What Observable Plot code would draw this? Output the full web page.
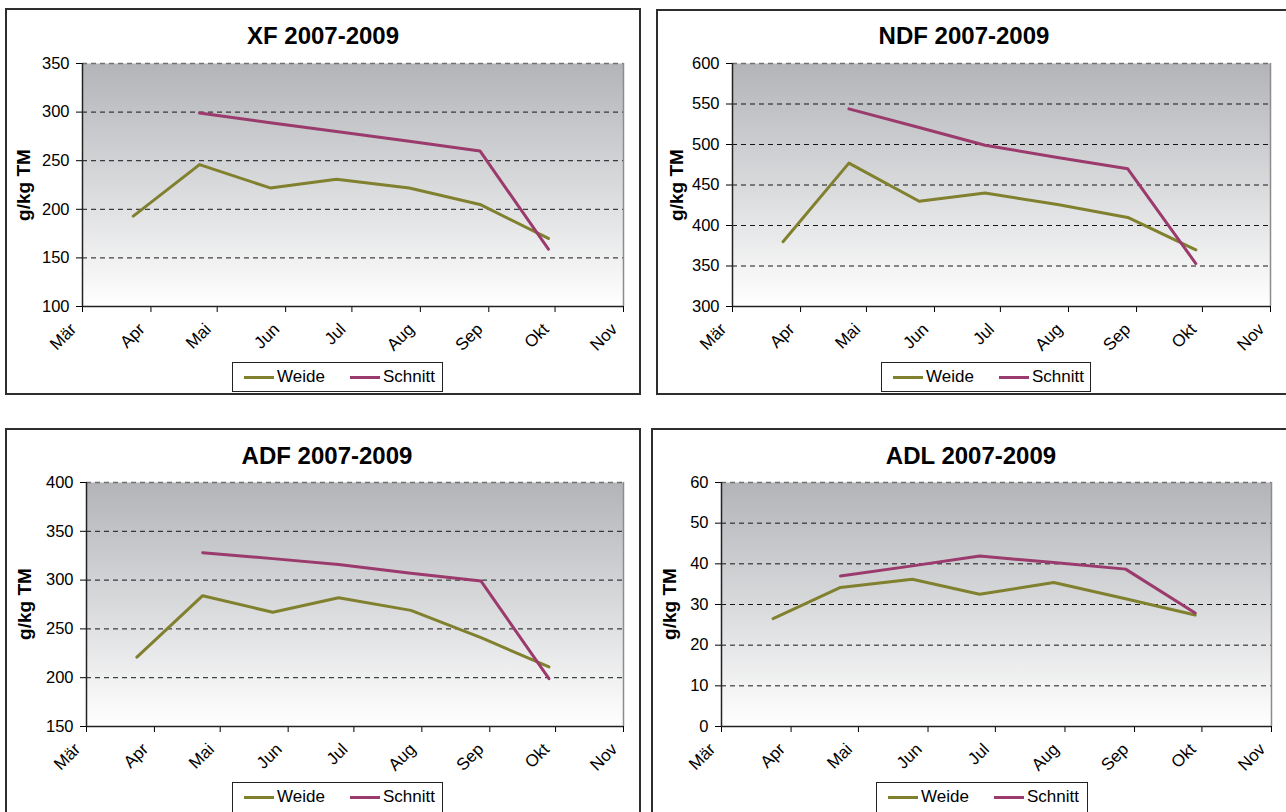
<!DOCTYPE html>
<html><head><meta charset="utf-8">
<script src="https://cdn.jsdelivr.net/npm/d3@7"></script>
<script src="https://cdn.jsdelivr.net/npm/@observablehq/plot@0.6"></script>
<style>
body{margin:0;background:#fff;width:1286px;height:812px;overflow:hidden;position:relative;font-family:"Liberation Sans",Arial,sans-serif;color:#000;}
.panel{position:absolute;box-sizing:border-box;border:2px solid #2e2e2e;}
.title{position:absolute;font-weight:bold;font-size:24px;line-height:24px;transform:translateX(-50%);white-space:nowrap;}
.ylab{position:absolute;font-weight:bold;font-size:19px;line-height:19px;transform:translate(-50%,-50%) rotate(-90deg);white-space:nowrap;}
.legend{position:absolute;box-sizing:border-box;border:1px solid #222;background:#fff;font-size:17px;}
.sw{position:absolute;height:3px;top:13px;width:30px;}
.lt{position:absolute;top:5px;line-height:18px;}
.chart{position:absolute;}
</style></head><body>
<script>
// ---- data ----
const months = ["Mär","Apr","Mai","Jun","Jul","Aug","Sep","Okt","Nov"];
const seriesNames = ["Weide","Schnitt"];
const seriesColors = ["#80802f","#9b3a6c"];
const titles = ["XF 2007-2009","NDF 2007-2009","ADF 2007-2009","ADL 2007-2009"];
const yLabel = "g/kg TM";
const weideDates = ["2009-03-24","2009-04-23","2009-05-25","2009-06-24","2009-07-27","2009-08-28","2009-09-28"];
const schnittDates = ["2009-04-23","2009-05-25","2009-06-24","2009-07-27","2009-08-28","2009-09-28"];

const xfWeide = [193, 246, 222, 231, 222, 205, 170];
const xfSchnitt = [299, 289, 280, 270, 260, 159];
const ndfWeide = [380, 477, 430, 440, 426, 410, 370];
const ndfSchnitt = [544, 521, 499, 484, 470, 353];
const adfWeide = [221, 284, 267, 282, 269, 241, 211];
const adfSchnitt = [328, 322, 316, 307, 299, 199];
const adlWeide = [26.5, 34.2, 36.2, 32.5, 35.4, 31.4, 27.4];
const adlSchnitt = [37, 39.5, 41.9, 40.3, 38.7, 27.9];

const yTicksXF = [100, 150, 200, 250, 300, 350];
const yTicksNDF = [300, 350, 400, 450, 500, 550, 600];
const yTicksADF = [150, 200, 250, 300, 350, 400];
const yTicksADL = [0, 10, 20, 30, 40, 50, 60];

// ---- layout ----
const layout = [
  {panel:[5,8,636,387], plot:[82,63,623,306], titleX:323, titleTop:24, ylabX:23, legend:[232,362,211,30]},
  {panel:[656,9,650,386], plot:[732,63,1270,306], titleX:964, titleTop:24, ylabX:676, legend:[881,362,210,30]},
  {panel:[5,428,636,400], plot:[86,482,623,726], titleX:327, titleTop:444, ylabX:24, legend:[232,782,211,40]},
  {panel:[651,428,650,400], plot:[721,482,1271,726], titleX:971, titleTop:444, ylabX:669, legend:[876,782,212,40]}
];

const monthStarts = months.map((m,i) => new Date(Date.UTC(2009, 2+i, 1)));

function div(cls, css, text){
  const d = document.createElement("div");
  d.className = cls;
  Object.assign(d.style, css);
  if (text != null) d.textContent = text;
  document.body.appendChild(d);
  return d;
}

function makeChart(i, wVals, sVals, yTicks){
  const L = layout[i];
  const [pl, pt, pw, ph] = L.panel;
  div("panel", {left:pl+"px", top:pt+"px", width:pw+"px", height:ph+"px"});
  div("title", {left:L.titleX+"px", top:L.titleTop+"px"}, titles[i]);
  const [px0, py0, px1, py1] = L.plot;
  div("ylab", {left:L.ylabX+"px", top:((py0+py1)/2)+"px"}, yLabel);

  const mL=60, mT=10, mR=12, mB=60;
  const W = px1-px0+mL+mR, H = py1-py0+mT+mB;
  const wData = weideDates.map((d,j)=>({date:new Date(d), v:wVals[j]}));
  const sData = schnittDates.map((d,j)=>({date:new Date(d), v:sVals[j]}));
  const x0 = monthStarts[0], x1 = monthStarts[monthStarts.length-1];
  const yMin = yTicks[0], yMax = yTicks[yTicks.length-1];
  const gid = "bg"+i;
  const svg = Plot.plot({
    width: W, height: H, marginLeft: mL, marginTop: mT, marginRight: mR, marginBottom: mB,
    style:{fontFamily:'"Liberation Sans",Arial,sans-serif', fontSize:"16px", color:"#000", background:"transparent", overflow:"visible"},
    x:{type:"utc", domain:[x0,x1]},
    y:{domain:[yMin,yMax]},
    marks:[
      Plot.frame({fill:`url(#${gid})`, stroke:"none"}),
      Plot.gridY(yTicks.slice(1,-1), {stroke:"#000", strokeOpacity:0.9, strokeDasharray:"5,4", strokeWidth:1}),
      Plot.gridY([yMax], {stroke:"#6f6f6f", strokeOpacity:1, strokeDasharray:"5,4", strokeWidth:1.5}),
      Plot.ruleX([x1], {stroke:"#8c8c8c", strokeWidth:1.5}),
      Plot.line(wData, {x:"date", y:"v", stroke:seriesColors[0], strokeWidth:3}),
      Plot.line(sData, {x:"date", y:"v", stroke:seriesColors[1], strokeWidth:3}),
      Plot.axisY({ticks:yTicks, tickSize:6, tickPadding:7, tickFormat:d=>String(d), fontSize:16.5, label:null}),
      Plot.axisX({ticks:monthStarts, tickSize:6, tickFormat:()=>"", label:null}),
      Plot.axisX({ticks:monthStarts, tickSize:0, tickPadding:20, dx:-9, tickRotate:-45, tickFormat:d=>months[d.getUTCMonth()-2], fontSize:17, label:null}),
      Plot.ruleX([x0], {stroke:"#222", strokeWidth:1.5}),
      Plot.ruleY([yMin], {stroke:"#222", strokeWidth:1.5})
    ]
  });
  const defs = d3.select(svg).insert("defs", ":first-child");
  const g = defs.append("linearGradient").attr("id", gid).attr("x1",0).attr("y1",0).attr("x2",0).attr("y2",1);
  g.append("stop").attr("offset","0%").attr("stop-color","#b2b4b8");
  g.append("stop").attr("offset","100%").attr("stop-color","#ffffff");
  svg.classList.add("chart");
  svg.style.position = "absolute";
  svg.style.left = (px0-mL)+"px";
  svg.style.top = (py0-mT)+"px";
  document.body.appendChild(svg);

  const [ll, lt, lw, lh] = L.legend;
  const lg = div("legend", {left:ll+"px", top:lt+"px", width:lw+"px", height:lh+"px"});
  const offs = [[11,44],[117,150]];
  seriesNames.forEach((n,k)=>{
    const s = document.createElement("div"); s.className="sw";
    s.style.left = offs[k][0]+"px"; s.style.background = seriesColors[k];
    lg.appendChild(s);
    const t = document.createElement("div"); t.className="lt";
    t.style.left = offs[k][1]+"px"; t.textContent = n;
    lg.appendChild(t);
  });
}

makeChart(0, xfWeide, xfSchnitt, yTicksXF);
makeChart(1, ndfWeide, ndfSchnitt, yTicksNDF);
makeChart(2, adfWeide, adfSchnitt, yTicksADF);
makeChart(3, adlWeide, adlSchnitt, yTicksADL);
</script>
</body></html>
